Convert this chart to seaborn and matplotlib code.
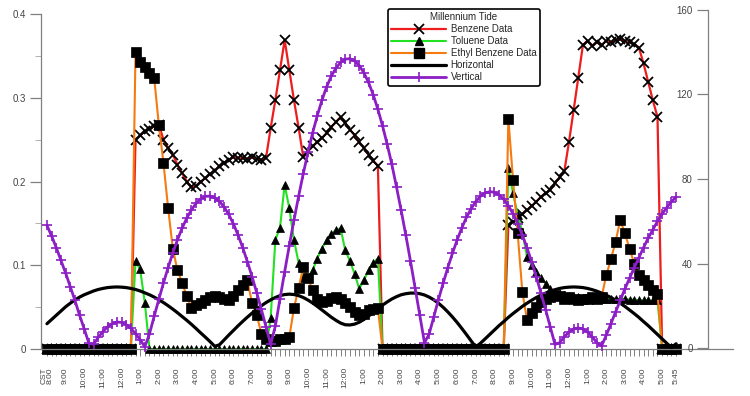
"""
Millennium Tide chart: benzene / toluene / ethyl benzene readings (left axis)
against horizontal and vertical tide components (right axis).
"""

import numpy as np
import matplotlib
matplotlib.use("Agg")
import matplotlib.pyplot as plt
from matplotlib.lines import Line2D
import seaborn as sns

# hours after 8:00 CST, one reading every 15 minutes (8:00 -> 5:45 next day)
hours = np.arange(0, 33.76, 0.25)

# left axis, 4 readings per hour
benzene = [
    0, 0, 0, 0, 0, 0, 0, 0, 0, 0, 0, 0, 0, 0, 0, 0,
    0, 0, 0, 0.25,
    0.255, 0.26, 0.263, 0.266,
    0.268, 0.25, 0.24, 0.232,
    0.22, 0.21, 0.2, 0.193,
    0.195, 0.2, 0.204, 0.209,
    0.213, 0.218, 0.222, 0.226,
    0.229, 0.228, 0.228, 0.227,
    0.229, 0.227, 0.226, 0.228,
    0.264, 0.297, 0.333, 0.369,
    0.333, 0.297, 0.264, 0.229,
    0.236, 0.242, 0.247, 0.252,
    0.258, 0.265, 0.271, 0.277,
    0.27, 0.262, 0.255, 0.247,
    0.24, 0.232, 0.225, 0.219,
    0, 0, 0, 0, 0, 0, 0, 0, 0, 0, 0, 0,
    0, 0, 0, 0, 0, 0, 0, 0, 0, 0, 0, 0,
    0, 0, 0, 0.148,
    0.152, 0.156, 0.161, 0.166,
    0.171, 0.176, 0.182, 0.186,
    0.19, 0.198, 0.205, 0.212,
    0.247, 0.285, 0.324, 0.363,
    0.368, 0.362, 0.366, 0.363,
    0.368, 0.366, 0.369, 0.37,
    0.368, 0.366, 0.364, 0.36,
    0.341, 0.319, 0.297, 0.277,
    0, 0, 0, 0,
]

toluene = [
    0, 0, 0, 0, 0, 0, 0, 0, 0, 0, 0, 0, 0, 0, 0, 0,
    0, 0, 0, 0.105,
    0.095, 0.055, 0, 0,
    0, 0, 0, 0, 0, 0, 0, 0, 0, 0, 0, 0,
    0, 0, 0, 0, 0, 0, 0, 0, 0, 0, 0, 0,
    0.037, 0.13, 0.145, 0.196,
    0.168, 0.13, 0.103, 0.085,
    0.085, 0.094, 0.108, 0.12,
    0.13, 0.137, 0.142, 0.144,
    0.118, 0.105, 0.09, 0.072,
    0.082, 0.094, 0.103, 0.108,
    0, 0, 0, 0, 0, 0, 0, 0, 0, 0, 0, 0,
    0, 0, 0, 0, 0, 0, 0, 0, 0, 0, 0, 0,
    0, 0, 0, 0.216,
    0.186, 0.16, 0.14, 0.11,
    0.1, 0.092, 0.085, 0.078,
    0.072, 0.068, 0.066, 0.064,
    0.063, 0.062, 0.062, 0.061,
    0.061, 0.06, 0.06, 0.06,
    0.06, 0.06, 0.06, 0.06,
    0.06, 0.059, 0.059, 0.058,
    0.058, 0.058, 0.058, 0.058,
    0, 0, 0, 0,
]

ethyl_benzene = [
    0, 0, 0, 0, 0, 0, 0, 0, 0, 0, 0, 0, 0, 0, 0, 0,
    0, 0, 0, 0.355,
    0.343, 0.337, 0.33, 0.324,
    0.268, 0.222, 0.168, 0.12,
    0.094, 0.079, 0.063, 0.049,
    0.052, 0.055, 0.058, 0.062,
    0.063, 0.062, 0.06, 0.059,
    0.063, 0.07, 0.076, 0.082,
    0.055, 0.041, 0.018, 0.012,
    0.01, 0.01, 0.012, 0.012,
    0.014, 0.049, 0.073, 0.098,
    0.085, 0.07, 0.06, 0.056,
    0.057, 0.061, 0.062, 0.06,
    0.055, 0.05, 0.044, 0.041,
    0.042, 0.047, 0.048, 0.049,
    0, 0, 0, 0, 0, 0, 0, 0, 0, 0, 0, 0,
    0, 0, 0, 0, 0, 0, 0, 0, 0, 0, 0, 0,
    0, 0, 0, 0.275,
    0.202, 0.138, 0.068, 0.035,
    0.043, 0.05, 0.056, 0.06,
    0.062, 0.065, 0.063, 0.06,
    0.062, 0.06, 0.058, 0.06,
    0.06, 0.062, 0.06, 0.062,
    0.088, 0.107, 0.128, 0.154,
    0.138, 0.12, 0.102, 0.088,
    0.082, 0.076, 0.07, 0.066,
    0, 0, 0, 0,
]

# right axis tide components
horizontal = [
    11.5, 13.5, 15.5, 17.5,
    19.5, 21.2, 22.7, 24.1,
    25.2, 26.1, 27, 27.7,
    28.2, 28.6, 28.8, 28.9,
    28.8, 28.6, 28.2, 27.7,
    27, 26.1, 25.2, 24.1,
    22.8, 21.5, 20, 18.4,
    16.7, 14.9, 13.1, 11.2,
    9.2, 7.1, 5.1, 3,
    0.8, 1.5, 3.8, 6.1,
    8.3, 10.5, 12.6, 14.6,
    16.5, 18.3, 20, 21.5,
    22.8, 23.9, 24.8, 25.3,
    25.5, 25.3, 24.8, 23.9,
    22.7, 21.3, 19.7, 18,
    16.3, 14.6, 13.1, 11.8,
    11, 10.9, 11.3, 12.2,
    13.5, 15.1, 16.8, 18.6,
    20.3, 21.8, 23.2, 24.3,
    25.2, 25.7, 26, 26,
    25.7, 25.1, 24.1, 22.8,
    21.2, 19.3, 17.1, 14.7,
    12.1, 9.3, 6.4, 3.4,
    0.5, 2.2, 4.3, 6.4,
    8.5, 10.6, 12.5, 14.5,
    16.3, 18, 19.7, 21.2,
    22.6, 23.9, 25, 26,
    26.9, 27.6, 28.2, 28.6,
    28.8, 28.9, 28.8, 28.6,
    28.2, 27.6, 26.9, 26,
    25, 23.9, 22.6, 21.2,
    19.7, 18, 16.3, 14.5,
    12.5, 10.6, 8.5, 6.4,
    4.3, 2.2, 0.2, 2,
]

vertical = [
    58, 53, 47.5, 41.5,
    35.5, 29, 22.5, 15.5,
    9, 2.2, 1.8, 5.0,
    7.8, 10.0, 11.5, 12.3,
    12.1, 11.1, 9.3, 6.8,
    3.9, 0.6, 6.7, 15,
    23, 30.8, 38.1, 45,
    51.2, 56.7, 61.5, 65.4,
    68.5, 70.6, 71.8, 71.9,
    71.1, 69.4, 66.8, 63.2,
    58.8, 53.5, 47.5, 40.9,
    33.8, 26.2, 18.3, 10,
    1.7, 10.4, 23.4, 36.1,
    48.5, 60.5, 71.9, 82.6,
    92.6, 101.8, 110, 117.3,
    123.6, 128.7, 132.5, 135.2,
    136.7, 137, 135.9, 133.7,
    130.3, 125.7, 119.9, 113,
    105.2, 96.4, 86.9, 76.2,
    65.1, 53.4, 41.1, 28.4,
    15.5, 2.5, 6.6, 14.8,
    22.9, 30.6, 38, 44.8,
    51.1, 56.8, 61.8, 65.9,
    69.3, 71.8, 73.4, 74,
    73.7, 72.5, 70.4, 67.4,
    63.5, 58.9, 53.5, 47.5,
    40.7, 33.6, 26, 18.1,
    9.9, 1.7, 2.5, 5.3,
    7.5, 9, 9.5, 9,
    7.5, 5.3, 2.5, 1,
    6, 11.5, 17, 22.5,
    28, 33, 38, 42.8,
    47.5, 52, 56, 60,
    63.5, 66.5, 69.3, 71.5,
]

tick_hours = list(range(0, 34)) + [33.75]
tick_labels = [
    "CST\n8:00", "9:00", "10:00", "11:00", "12:00", "1:00", "2:00", "3:00",
    "4:00", "5:00", "6:00", "7:00", "8:00", "9:00", "10:00", "11:00",
    "12:00", "1:00", "2:00", "3:00", "4:00", "5:00", "6:00", "7:00",
    "8:00", "9:00", "10:00", "11:00", "12:00", "1:00", "2:00", "3:00",
    "4:00", "5:00", "5:45",
]
left_ticks = [0, 0.1, 0.2, 0.3, 0.4]
left_labels = ["0", "0.1", "0.2", "0.3", "0.4"]
right_ticks = [0, 40, 80, 120, 160]

RED = "#ee1c1c"
GREEN = "#22e022"
ORANGE = "#f57a10"
PURPLE = "#8b1ec4"
GRAY = "#808080"

sns.set_style("ticks")
plt.rcParams["font.family"] = ["Liberation Sans", "DejaVu Sans"]

fig = plt.figure(figsize=(7.5, 3.96), dpi=100)
ax = fig.add_axes([41 / 750, 47 / 396, 692 / 750, 335 / 396])
ax2 = fig.add_axes([41 / 750, 48 / 396, 692 / 750, 338 / 396], sharex=ax)

# markers at zero hang below the baseline, so no clipping
common = dict(ax=ax, estimator=None, legend=False, clip_on=False)
sns.lineplot(x=hours, y=benzene, color=RED, linewidth=1.6, marker="x",
             markersize=7, markeredgecolor="black", markeredgewidth=1.3, **common)
sns.lineplot(x=hours, y=toluene, color=GREEN, linewidth=1.5, marker="^",
             markersize=5.5, markerfacecolor="black", markeredgecolor="black",
             markeredgewidth=0.5, **common)
sns.lineplot(x=hours, y=ethyl_benzene, color=ORANGE, linewidth=1.5, marker="s",
             markersize=7, markerfacecolor="black", markeredgecolor="black",
             markeredgewidth=0.5, **common)

common2 = dict(ax=ax2, estimator=None, legend=False, clip_on=False)
sns.lineplot(x=hours, y=horizontal, color="black", linewidth=2.3, **common2)
sns.lineplot(x=hours, y=vertical, color=PURPLE, linewidth=2.0, marker="+",
             markersize=7, markeredgecolor=PURPLE, markeredgewidth=1.2, **common2)

# left axis
ax.set_xlim(-0.32, 36.8)
ax.set_ylim(0, 0.4)
ax.set_yticks(left_ticks)
ax.set_yticklabels(left_labels)
ax.set_yticks([0.05, 0.15, 0.25, 0.35], minor=True)
ax.set_xticks(tick_hours)
ax.set_xticklabels(tick_labels, rotation=90, fontsize=6, linespacing=0.9)
ax.set_xticks(hours, minor=True)
for side in ["top", "right"]:
    ax.spines[side].set_visible(False)
for side in ["left", "bottom"]:
    ax.spines[side].set_color(GRAY)
    ax.spines[side].set_linewidth(0.9)
ax.tick_params(axis="y", which="major", length=8, width=0.9, color=GRAY,
               labelsize=7, labelcolor="#444444", pad=3)
ax.tick_params(axis="y", which="minor", length=4.5, width=0.7, color="#b0b0b0")
ax.tick_params(axis="x", which="both", length=5, width=0.7, color=GRAY,
               labelcolor="#444444", pad=8)
ax.set_xlabel("")
ax.set_ylabel("")

# right axis, drawn inside the frame with labels to its left
ax2.patch.set_visible(False)
ax2.set_ylim(0, 160)
ax2.set_yticks(right_ticks)
for side in ["top", "right", "bottom"]:
    ax2.spines[side].set_visible(False)
ax2.spines["left"].set_position(("axes", (708 - 41) / 692))
ax2.spines["left"].set_color(GRAY)
ax2.spines["left"].set_linewidth(0.9)
ax2.tick_params(axis="y", length=8, width=0.9, color=GRAY, labelsize=7,
                labelcolor="#444444", pad=3)
ax2.tick_params(axis="x", which="both", bottom=False, labelbottom=False)
ax2.set_xlabel("")
ax2.set_ylabel("")

handles = [
    Line2D([], [], color=RED, linewidth=1.6, marker="x", markersize=7,
           markeredgecolor="black", markeredgewidth=1.3),
    Line2D([], [], color=GREEN, linewidth=1.5, marker="^", markersize=5.5,
           markerfacecolor="black", markeredgecolor="black"),
    Line2D([], [], color=ORANGE, linewidth=1.5, marker="s", markersize=7,
           markerfacecolor="black", markeredgecolor="black"),
    Line2D([], [], color="black", linewidth=2.3),
    Line2D([], [], color=PURPLE, linewidth=2.0, marker="|", markersize=7,
           markeredgecolor=PURPLE, markeredgewidth=1.2),
]
labels = ["Benzene Data", "Toluene Data", "Ethyl Benzene Data", "Horizontal", "Vertical"]
leg = fig.legend(handles, labels, title="Millennium Tide", loc="upper left",
                 bbox_to_anchor=(388 / 750, 1 - 9 / 396), frameon=True,
                 fancybox=True, framealpha=1, edgecolor="black", fontsize=7,
                 title_fontsize=7, handlelength=5.6, handletextpad=0.5,
                 borderpad=0.35, labelspacing=0.2, borderaxespad=0)
leg.get_frame().set_linewidth(1.2)

fig.savefig("out.png", dpi=100)
